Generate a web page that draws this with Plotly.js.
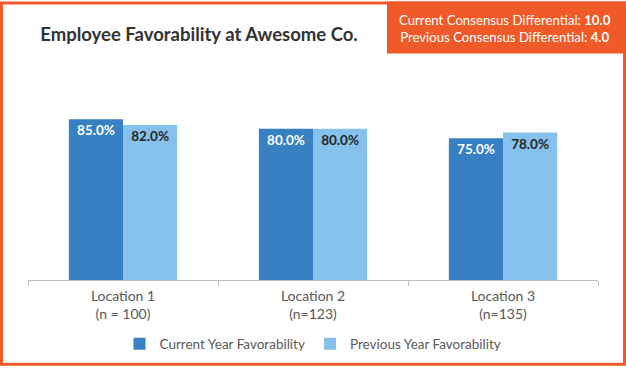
<!DOCTYPE html>
<html><head><meta charset="utf-8">
<script src="https://cdn.plot.ly/plotly-3.0.1.min.js"></script>
<style>html,body{margin:0;padding:0;background:#fff}#chart{width:626px;height:371px}</style>
</head><body><div id="chart"></div>
<script>
const categories = ["Location 1<br>(n = 100)", "Location 2<br>(n=123)", "Location 3<br>(n=135)"];
const currentYear = [85.0, 80.0, 75.0];
const previousYear = [82.0, 80.0, 78.0];
const seriesNames = ["Current Year Favorability", "Previous Year Favorability"];
const currentDiff = 10.0;
const previousDiff = 4.0;

const W = 626, H = 371, ML = 28, MR = 28, MT = 91, MB = 88;
const pw = W - ML - MR, ph = H - MT - MB;
const px = v => (v - ML) / pw;
const py = v => (H - MB - v) / ph;
const ORANGE = '#EF5A28';
const FONT = 'Lato, "Liberation Sans", sans-serif';

const traces = [
  {type:'bar', name:seriesNames[0], x:categories, y:currentYear,
   marker:{color:'#3780C3'}, text:currentYear.map(v=>v.toFixed(1)+'%'),
   textposition:'inside', insidetextanchor:'end', textangle:0,
   insidetextfont:{color:'#ffffff', size:13.5, family:FONT, weight:'bold'}, hoverinfo:'skip'},
  {type:'bar', name:seriesNames[1], x:categories, y:previousYear,
   marker:{color:'#85C1EA'}, text:previousYear.map(v=>v.toFixed(1)+'%'),
   textposition:'inside', insidetextanchor:'end', textangle:0,
   insidetextfont:{color:'#262626', size:13.5, family:FONT, weight:'bold'}, hoverinfo:'skip'}
];

const layout = {
  width:W, height:H, margin:{l:ML, r:MR, t:MT, b:MB, pad:0},
  paper_bgcolor:'#fff', plot_bgcolor:'#fff',
  font:{family:FONT, color:'#595959', size:13},
  barmode:'group', bargap:0.43, bargroupgap:0,
  title:{text:'<b>Employee Favorability at Awesome Co.</b>', x:199/W, xref:'container', xanchor:'center',
         y:1-35/H, yref:'container', yanchor:'middle', font:{size:18.5, color:'#333333', family:FONT}},
  xaxis:{tickson:'boundaries', ticks:'outside', ticklen:5, tickcolor:'#BFBFBF', showline:true,
         linecolor:'#BFBFBF', linewidth:1, tickfont:{size:14, color:'#595959'}, ticklabelstandoff:3, fixedrange:true},
  yaxis:{range:[0,100], visible:false, showgrid:false, zeroline:false, fixedrange:true},
  showlegend:true,
  legend:{orientation:'h', x:0.5, xanchor:'center', y:py(348), yanchor:'middle',
          font:{size:13.5, color:'#595959'}, traceorder:'normal', itemwidth:30},
  shapes:[
    {type:'rect', xref:'paper', yref:'paper', x0:px(387), x1:px(626), y0:py(53), y1:py(0),
     fillcolor:ORANGE, line:{width:0}, layer:'above'},
    {type:'rect', xref:'paper', yref:'paper', x0:px(1.5), x1:px(624.5), y0:py(368.5), y1:py(1.5),
     line:{color:ORANGE, width:3}, fillcolor:'rgba(0,0,0,0)', layer:'above'}
  ],
  annotations:[
    {xref:'paper', yref:'paper', x:px(505), y:py(27), xanchor:'center', yanchor:'middle', showarrow:false,
     align:'center', font:{size:13.2, color:'#ffffff', family:FONT},
     text:'Current Consensus Differential: <b>'+currentDiff.toFixed(1)+'</b><br>Previous Consensus Differential: <b>'+previousDiff.toFixed(1)+'</b>'}
  ]
};
Plotly.newPlot('chart', traces, layout, {displayModeBar:false, staticPlot:true});
</script></body></html>
